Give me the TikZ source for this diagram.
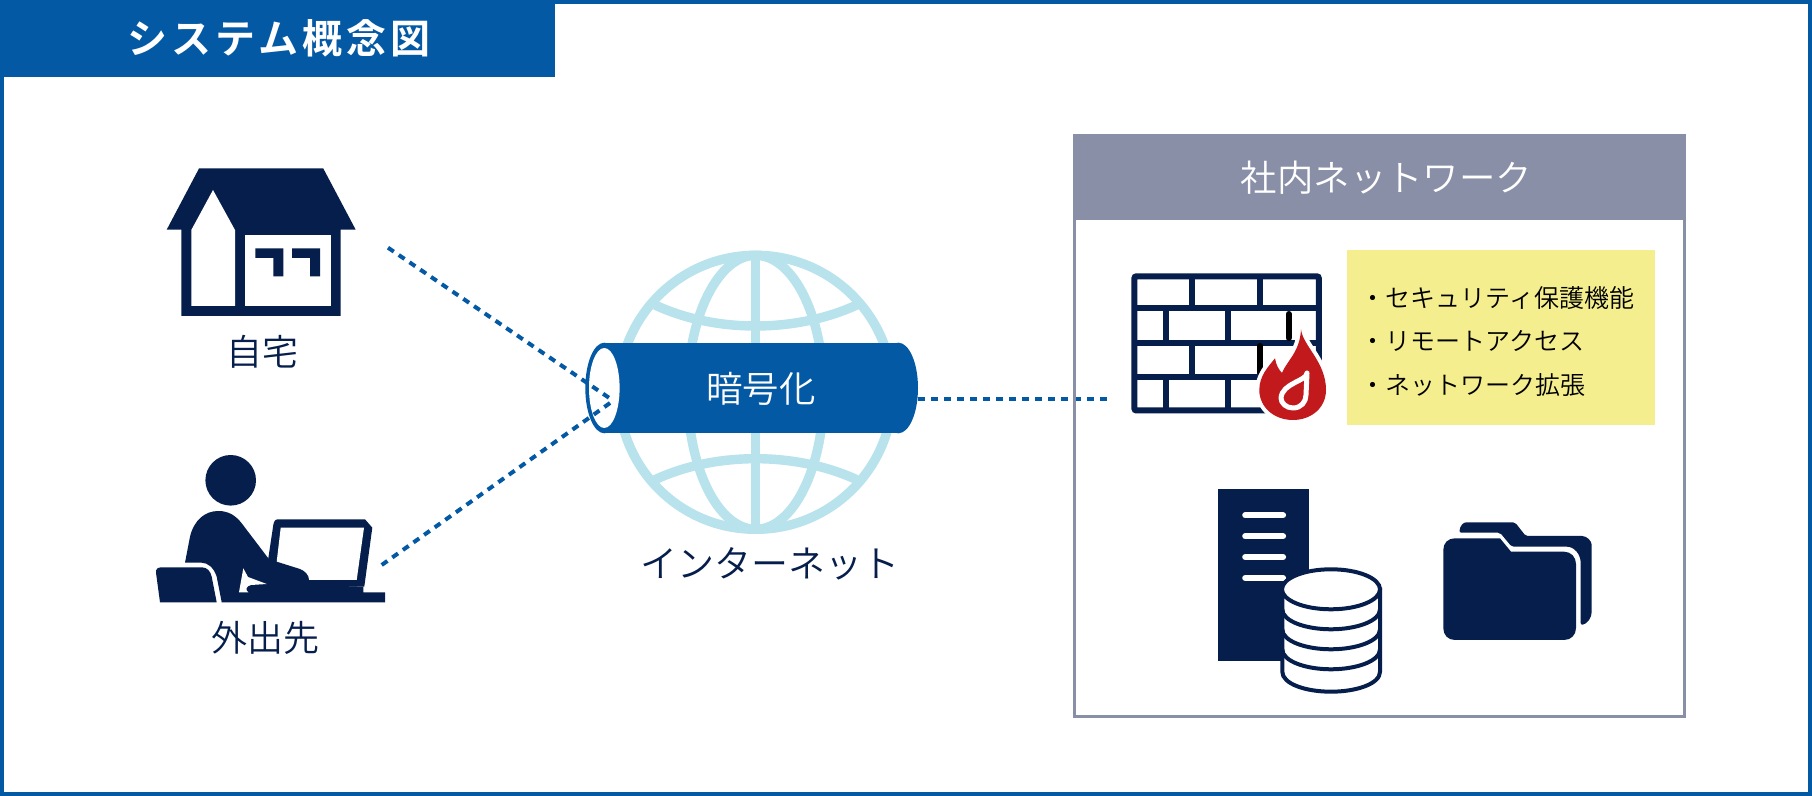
\documentclass[tikz,border=0pt]{standalone}
\usepackage{fontspec}
\setmainfont{Noto Sans CJK JP}
\newfontfamily\jplight{Noto Sans CJK JP DemiLight}
\newfontfamily\jpheavy[LetterSpace=10]{Noto Sans CJK JP Bold}
\definecolor{navy}{HTML}{061E4B}
\definecolor{mainblue}{HTML}{0459A5}
\definecolor{globeblue}{HTML}{B8E2EC}
\definecolor{panelgrey}{HTML}{8A8FA8}
\definecolor{flamered}{HTML}{C1191C}
\definecolor{noteyellow}{HTML}{F4EE8E}
\tikzset{
  px/.style={x=0.5pt,y=-0.5pt},
  navytext/.style={text=navy,inner sep=0pt,font=\jplight\fontsize{18}{20}\selectfont},
  whitetext/.style={text=white,inner sep=0pt,font=\jplight\fontsize{18.2}{20}\selectfont},
  notetext/.style={text=black,inner sep=0pt,anchor=west,font=\jplight\fontsize{12.5}{14}\selectfont},
  tunneldash/.style={draw=mainblue,line width=2pt,dash pattern=on 3.5pt off 3pt},
  globeline/.style={draw=globeblue,line width=4.7pt},
  brick/.style={draw=navy,line width=3pt},
  brickdark/.style={draw=black,line width=3pt,line cap=round},
}
\def\flameshape{(1301,329.5) .. controls (1303,346) and (1326,362) .. (1326,390) .. controls (1326,408) and (1311,420) .. (1292.9,420) .. controls (1274,420) and (1259.3,407) .. (1259.3,390) .. controls (1259.3,376) and (1268,367) .. (1275,358.3) .. controls (1276,365) and (1279,370) .. (1282,373) .. controls (1286,362) and (1300,352) .. (1301,329.5) -- cycle}
\begin{document}
\begin{tikzpicture}[px]
\useasboundingbox (0,0) rectangle (1812,796);
\fill[white] (0,0) rectangle (1812,796);
% frame and title
\draw[mainblue,line width=2pt] (2,2) rectangle (1810,794);
\fill[mainblue] (0,0) rectangle (554.5,77);
\node[text=white,inner sep=0pt,font=\jpheavy\fontsize{20}{22}\selectfont] (title) at (279,38) {システム概念図};

% house
\fill[navy] (199,168.5) -- (323.3,168.5) -- (355.7,229.7) -- (340.7,229.7) -- (340.7,316) -- (181.3,316) -- (181.3,229.7) -- (166.7,229.7) -- cycle;
\fill[white] (213,190) -- (235,230) -- (235,306) -- (191.3,306) -- (191.3,230) -- cycle;
\fill[white] (245,234.7) rectangle (330.7,306);
\fill[navy] (255.3,248.3) -- (283.3,248.3) -- (283.3,276.3) -- (273.3,276.3) -- (273.3,258) -- (255.3,258) -- cycle;
\fill[navy] (292,248.3) -- (320,248.3) -- (320,276.3) -- (310,276.3) -- (310,258) -- (292,258) -- cycle;
\node[navytext] (home) at (262.5,352) {自宅};

% person at laptop
\fill[navy] (230.7,480.3) circle[radius=25.3];
\fill[navy] (268.3,558.3) -- (273.3,525) .. controls (274,521) and (275,519.3) .. (278.3,519.3) -- (365,519.3) -- (372.3,527.7) -- (364.3,586.7) -- (300,586.7) -- cycle;
\fill[white] (280.7,527.7) -- (364,527.7) -- (356.7,580) -- (300,580) -- (276.7,561.7) -- cycle;
\fill[navy] (185,562.7) -- (190,536.7) .. controls (194,520) and (205,511) .. (218.3,511) .. controls (229,511) and (236,516) .. (241.7,523.3) -- (268.3,558.3) -- (276.7,561.7) -- (300,569) .. controls (305,571) and (309,575) .. (309,580) -- (309,585) -- (363.3,586.7) -- (363.3,592.3) -- (385,592.3) -- (385,602.3) -- (221.7,602.3) -- (216.7,576.7) .. controls (214,568) and (208,562.7) .. (201.7,562.7) -- cycle;
\fill[white] (239,592.3) -- (243.3,568.3) -- (248,577) -- (266.7,584) -- (251,585) .. controls (246,586) and (245,590) .. (248.3,592.3) -- cycle;
\fill[navy] (156,572.7) .. controls (155.5,569) and (158,567.3) .. (161.7,567.3) -- (201.7,567.3) .. controls (207,567.3) and (210.5,571) .. (211.7,576.7) -- (216.7,602.3) -- (160,602.3) -- cycle;
\node[navytext] (away) at (265,638) {外出先};

% globe
\draw[globeline] (755.7,392.3) circle[radius=137];
\draw[globeline] (755.7,392.3) ellipse[x radius=68,y radius=137];
\draw[globeline] (755.7,255.3) -- (755.7,529.3);
\draw[globeline] (655,305) .. controls (715,333) and (796,333) .. (856.7,305);
\draw[globeline] (655,479.7) .. controls (715,451.7) and (796,451.7) .. (856.7,479.7);
\node[navytext,font=\jplight\fontsize{18.5}{20}\selectfont] (internet) at (769.5,564) {インターネット};

% tunnel
\fill[mainblue] (604.3,388) ellipse[x radius=19,y radius=45.3];
\fill[mainblue] (898.3,388) ellipse[x radius=19.7,y radius=45.3];
\fill[mainblue] (604.3,342.7) rectangle (898.3,433.3);
\fill[white] (604.3,388) ellipse[x radius=15.3,y radius=40];
\node[whitetext] (crypto) at (761,388.7) {暗号化};

% dashed connectors
\coordinate (homeend) at (388,247.7);
\coordinate (awayend) at (381.7,565);
\coordinate (tunnelin) at (613.3,400.7);
\coordinate (tunnelout) at (918,399.3);
\coordinate (lanend) at (1107,399.3);
\draw[tunneldash] (homeend) -- (tunnelin);
\draw[tunneldash] (awayend) -- (tunnelin);
\draw[tunneldash] (tunnelout) -- (lanend);

% panel
\draw[panelgrey,line width=1.5pt] (1074.5,136) rectangle (1684.5,717);
\fill[panelgrey] (1073.5,135) rectangle (1685.5,219.6);
\node[whitetext] (lan) at (1386.5,178) {社内ネットワーク};

% firewall
\draw[brick,rounded corners=1pt] (1134.4,276.3) rectangle (1318.8,410.5);
\foreach \yy in {308.3,342.7,376.7}{\draw[brick] (1134.4,\yy) -- (1318.8,\yy);}
\foreach \xx in {1192,1260.4}{
  \draw[brick] (\xx,276.3) -- (\xx,308.3);
  \draw[brick] (\xx,342.7) -- (\xx,376.7);
}
\foreach \xx in {1166,1227.5}{
  \draw[brick] (\xx,308.3) -- (\xx,342.7);
  \draw[brick] (\xx,376.7) -- (\xx,410.5);
}
\draw[brick] (1288.6,376.7) -- (1288.6,410.5);
\draw[brickdark] (1288.6,314) -- (1288.6,338);
\draw[brickdark] (1260.4,346) -- (1260.4,372);
% flame
\path[draw=white,line width=4pt,line join=round] \flameshape;
\fill[flamered] \flameshape;
\path[fill=flamered,draw=white,line width=2.5pt,line join=round] (1307,373) .. controls (1307,381) and (1282,383) .. (1281,398) .. controls (1281,403) and (1286,408) .. (1293,408) .. controls (1301,408) and (1306,402) .. (1306,395) -- cycle;
% note
\fill[noteyellow] (1346.5,250.5) rectangle (1654.5,425);
\node[notetext] (note1) at (1360.5,298) {・セキュリティ保護機能};
\node[notetext] (note2) at (1360.5,341) {・リモートアクセス};
\node[notetext] (note3) at (1360.5,385) {・ネットワーク拡張};

% server
\fill[navy] (1218.3,489) rectangle (1309,660.7);
\foreach \yy in {515.3,536.3,557,578}{\draw[white,line width=3.1pt,line cap=round] (1245.3,\yy) -- (1283,\yy);}
% database
\fill[white,draw=navy,line width=2pt] (1282.3,589.3) -- (1282.3,671.7) .. controls (1282.3,684) and (1306,691.7) .. (1331,691.7) .. controls (1356,691.7) and (1380,684) .. (1380,671.7) -- (1380,589.3) -- cycle;
\foreach \yy in {609.3,629.3,649.3}{\draw[navy,line width=2pt] (1282.3,\yy) .. controls (1282.3,\yy+12) and (1306,\yy+20) .. (1331,\yy+20) .. controls (1356,\yy+20) and (1380,\yy+12) .. (1380,\yy);}
\fill[white,draw=navy,line width=2pt] (1331,589.3) ellipse[x radius=49,y radius=20];

% folder
\fill[navy,rounded corners=1pt] (1459.3,532.7) .. controls (1460,526) and (1463,522.3) .. (1468.3,522.3) -- (1515,522.3) -- (1525.7,536) -- (1580,536) .. controls (1587,536) and (1591.7,541) .. (1591.7,547) -- (1591.7,610) .. controls (1591.7,618) and (1587,624) .. (1580.7,625) -- (1580.7,565) .. controls (1580.7,554) and (1574,546.7) .. (1565,546.7) -- (1511.7,546.7) -- (1500,532.7) -- cycle;
\fill[navy] (1443.3,550) .. controls (1443.3,543) and (1448,538.3) .. (1455,538.3) -- (1500,538.3) -- (1511,551.7) -- (1564,551.7) .. controls (1571,551.7) and (1576,557) .. (1576,564) -- (1576,628) .. controls (1576,635) and (1571,640) .. (1564,640) -- (1455,640) .. controls (1448,640) and (1443.3,635) .. (1443.3,628) -- cycle;
\end{tikzpicture}
\end{document}
